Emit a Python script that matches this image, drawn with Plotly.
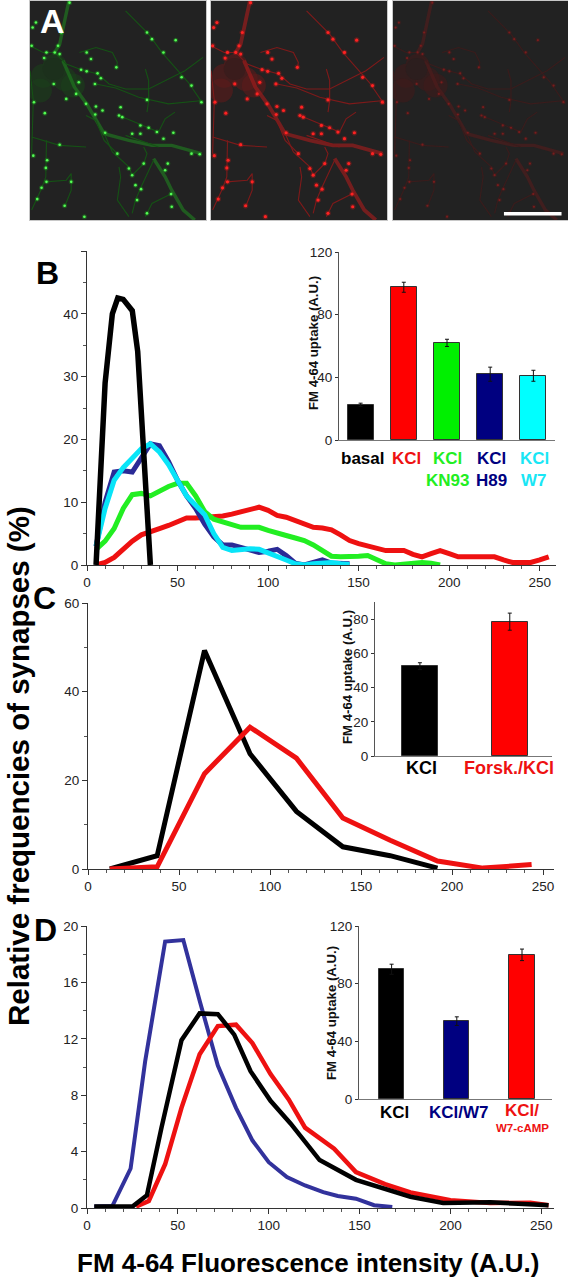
import plotly.graph_objects as go

W, H = 568, 1280
FONT = "Liberation Sans"
INK = "#222222"
RED, GREEN, NAVY, CYAN, BLUE = "#ee1111", "#22ee22", "#2a2a96", "#08e4f8", "#32329c"

# ---- Panel B distributions
b_x = [5 * i for i in range(1, 52)]
b_black_x = [5, 10, 14, 17, 20, 25, 28, 30, 35]
b_black = [0, 29, 40, 42.5, 42.3, 40.5, 34, 24, 0]
b_navy = [3, 10, 14.8, 15, 14.8, 17, 19.3, 19, 16.5, 13.5, 11, 9, 6.5, 4.5, 3.2, 3.2, 2.8, 2.5, 2, 2.2, 2.5, 1.5, 0.3, 0, 0.5, 0.8, 0.3, 0.3, 0.2]
b_cyan = [3, 9, 13.5, 15.5, 17, 18.5, 19.3, 18, 16, 13.5, 11, 9.5, 8, 5, 2.8, 2.3, 2.5, 2.6, 2.5, 2, 1.3, 0.8, 0.2, 0, 0.2, 0.4, 0.4, 0.2, 0.1]
b_green = [2.5, 3.8, 5.8, 9, 11.2, 11.4, 11, 11.8, 12.5, 13, 13, 11, 8.5, 7.3, 6.8, 6.3, 6, 6, 6, 5.5, 5, 4.7, 4.3, 3.9, 3.2, 2.2, 1.4, 1.3, 1.3, 1.4, 1.5, 0.9, 0.2, 0, 0.1, 0.3, 0.4, 0.3, 0]
b_red = [0, 0.4, 1.2, 2.5, 3.8, 4.8, 5.4, 5.8, 6.3, 6.9, 7.5, 7.5, 7.6, 7.6, 7.8, 8.1, 8.5, 8.9, 9.2, 8.7, 7.9, 7.6, 7.0, 6.5, 6, 5.9, 5.6, 4.8, 3.9, 3.4, 3, 2.6, 2.3, 2.3, 2.3, 1.7, 1.3, 1.8, 2.3, 1.8, 1.3, 1.3, 1.3, 1.3, 1.3, 0.8, 0.4, 0.4, 0.4, 0.8, 1.3]

# ---- Panel B inset
bi_vals = [22.5, 97.5, 62, 42, 41]
bi_errs = [1, 3.2, 2.3, 4.5, 3.5]
bi_colors = ["#000000", "#ff0000", "#00f000", "#000080", "#00ffff"]
bi_labels = [("basal", "", "#000000", 362), ("KCl", "", "#ee1111", 406), ("KCl", "KN93", "#22ee22", 448), ("KCl", "H89", "#000080", 491), ("KCl", "W7", "#19e6f5", 534)]

# ---- Panel C distributions
c_black_x = [12, 38, 64, 89, 114.5, 140, 166, 192]
c_black = [0, 3, 49.3, 26, 13, 5, 3, 0.2]
c_red_x = [12, 38, 64, 89, 114.5, 140, 166, 192, 217, 243.7]
c_red = [0, 0.5, 21.5, 32, 25, 11.5, 6.5, 1.8, 0.2, 1]
ci_vals = [52.5, 78.5]
ci_errs = [2, 5]
ci_colors = ["#000000", "#ff0000"]

# ---- Panel D distributions
d_blue_x = [4, 14, 24, 32, 43, 53, 62, 72, 82, 91, 100, 110, 120, 130, 138, 148, 158, 168]
d_blue = [0.1, 0.15, 2.8, 10.4, 18.9, 19, 14.7, 10.1, 7.1, 4.8, 3.25, 2.2, 1.6, 1.13, 0.85, 0.66, 0.2, 0.07]
d_black_x = [4, 25, 33, 41, 52, 62, 72, 81, 90, 101, 112, 128, 148, 178, 196, 222, 254]
d_black = [0.1, 0.1, 0.9, 5.7, 11.9, 13.8, 13.75, 12.3, 9.7, 7.6, 6, 3.4, 2, 0.8, 0.35, 0.4, 0.2]
d_red_x = [27, 34, 43, 52, 62, 72, 82, 91, 101, 111, 120, 136, 148, 164, 178, 200, 222, 244, 254]
d_red = [0.1, 0.5, 3.1, 7.1, 10.9, 12.9, 13, 11.7, 9.5, 7.7, 5.7, 4.2, 2.55, 1.7, 1.1, 0.55, 0.35, 0.38, 0.2]
di_vals = [90, 54, 100]
di_errs = [3.5, 3, 4]
di_colors = ["#000000", "#000080", "#ff0000"]

# ---- Panel A micrograph tracing (neurites and puncta, panel units)
neurites_thick = [
    [(118, 0), (105, 60), (90, 130), (75, 155)],
    [(100, 180), (135, 260), (175, 315), (225, 400), (300, 420), (370, 435), (430, 435), (520, 460)],
    [(375, 475), (410, 530), (430, 570), (465, 630), (500, 660)],
]
neurites_thin = [
    [(0, 135), (40, 155), (75, 155), (110, 190), (150, 205), (205, 220), (240, 250), (290, 265), (360, 265), (420, 235), (470, 210), (525, 170)],
    [(150, 155), (200, 140), (250, 155), (265, 185), (262, 205)],
    [(290, 30), (360, 100), (400, 155), (440, 200), (480, 245), (525, 310)],
    [(350, 205), (360, 240), (360, 300), (355, 335)],
    [(225, 400), (250, 455), (300, 500), (310, 525), (345, 490), (355, 460), (345, 440)],
    [(375, 480), (350, 530), (335, 565), (320, 600), (310, 640)],
    [(270, 500), (275, 530), (265, 600), (300, 650)],
    [(430, 580), (370, 610), (350, 650)],
    [(50, 420), (50, 480), (48, 530), (35, 565), (20, 600), (5, 630)],
    [(48, 545), (110, 540), (125, 520), (125, 570), (105, 620)],
    [(5, 410), (90, 435), (170, 440)],
    [(0, 210), (10, 300), (5, 460)],
    [(170, 345), (200, 360), (225, 420), (265, 460)],
    [(270, 345), (340, 375), (390, 395), (410, 355), (440, 335)],
    [(290, 405), (390, 440)],
    [(200, 250), (260, 262), (330, 290), (420, 310), (525, 300)],
]
puncta = [(120, 5), (8, 80), (18, 65), (95, 95), (85, 135), (75, 155), (50, 155), (43, 172), (90, 160), (172, 155), (185, 175),
          (155, 207), (172, 212), (205, 218), (215, 233), (197, 250), (72, 250), (148, 245), (140, 280), (170, 310), (200, 318),
          (220, 330), (275, 320), (262, 200), (370, 115), (405, 155), (355, 95), (460, 230), (490, 255), (442, 118), (520, 305),
          (355, 298), (110, 295), (12, 305), (5, 135), (45, 338), (52, 480), (48, 503), (50, 545), (35, 563), (22, 597), (105, 617),
          (125, 545), (165, 650), (228, 397), (198, 342), (270, 345), (280, 350), (335, 375), (360, 382), (385, 395), (335, 400),
          (310, 400), (405, 415), (435, 397), (490, 460), (515, 462), (418, 490), (410, 510), (300, 505), (310, 525), (345, 490),
          (320, 555), (337, 567), (428, 582), (325, 600), (355, 640), (265, 460), (90, 433), (10, 466), (430, 620)]
soma_glow = [(40, 225), (75, 195), (105, 235), (30, 270), (130, 255)]
soma_core = [(72, 205)]
panel_a_boxes = [(30, 206), (211, 387), (393, 568)]
panel_a_styles = [
    dict(dot="#55ff55", halo="#1f9a1f", thick="#1f7a1f", thin="#155215", glow="#1b3f1b", core="#1c301c", size=2.6, tw=3.4),
    dict(dot="#ff2222", halo="#b01818", thick="#a01c1c", thin="#7e1a1a", glow="#5e1a1a", core="#3a1c1c", size=3.2, tw=3.8),
    dict(dot="#7a1c1c", halo="#501c1c", thick="#501c1c", thin="#3a1c1c", glow="#401b1b", core="#2c1e1e", size=2.2, tw=3.4),
]

def segs(paths):
    xs, ys = [], []
    for p in paths:
        xs += [q[0] for q in p] + [None]
        ys += [q[1] for q in p] + [None]
    return xs, ys

fig = go.Figure()
layout = dict(width=W, height=H, margin=dict(l=0, r=0, t=0, b=0, autoexpand=False), paper_bgcolor="white",
              plot_bgcolor="rgba(0,0,0,0)", showlegend=False, font=dict(family=FONT, color=INK, size=13), bargap=0)
annos, n = [], [0]

def axes(l, r, t, b, xa, ya):
    n[0] += 1
    k = "" if n[0] == 1 else str(n[0])
    layout["xaxis" + k] = dict(domain=[l / W, r / W], anchor="y" + k, **xa)
    layout["yaxis" + k] = dict(domain=[1 - b / H, 1 - t / H], anchor="x" + k, **ya)
    return "x" + k, "y" + k

def text(x, y, s, size, color="#000000", bold=True, angle=0, anchor="center"):
    annos.append(dict(x=x / W, y=1 - y / H, xref="paper", yref="paper", text=f"<b>{s}</b>" if bold else s, showarrow=False,
                      font=dict(family=FONT, size=size, color=color), textangle=angle, xanchor=anchor, yanchor="middle"))

def main_axis(rng, vals, minor, blank_top=False):
    labels = [str(v) for v in vals]
    if blank_top:
        labels[-1] = ""
    return dict(range=rng, tickmode="array", tickvals=vals, ticktext=labels,
                ticks="outside", ticklen=5, tickwidth=1, tickcolor="#333333", showline=True, linecolor="#333333", linewidth=1.2,
                showgrid=False, zeroline=False, tickfont=dict(family=FONT, size=13.5, color=INK),
                minor=dict(tickmode="array", tickvals=minor, ticks="outside", ticklen=3, tickcolor="#555555", showgrid=False))

def line(ax, x, y, color, width, opacity=1.0):
    fig.add_trace(go.Scatter(x=x, y=y, mode="lines", xaxis=ax[0], yaxis=ax[1], opacity=opacity, line=dict(color=color, width=width), hoverinfo="skip"))

def dots(ax, pts, color, size, opacity=1.0):
    fig.add_trace(go.Scatter(x=[p[0] for p in pts], y=[p[1] for p in pts], mode="markers", xaxis=ax[0], yaxis=ax[1],
                             marker=dict(color=color, size=size, opacity=opacity, line=dict(width=0)), hoverinfo="skip"))

def bars(ax, vals, errs, colors, width):
    fig.add_trace(go.Bar(x=list(range(len(vals))), y=vals, width=width, xaxis=ax[0], yaxis=ax[1],
                         marker=dict(color=colors, line=dict(color="#333333", width=1)),
                         error_y=dict(type="data", array=errs, color="#111111", thickness=1, width=2), hoverinfo="skip"))

def inset_x(rng):
    return dict(range=rng, showticklabels=False, ticks="", showline=True, linecolor="#777777", linewidth=1, showgrid=False, zeroline=False)

def inset_y(rng, vals, size=13.5):
    return dict(range=rng, tickmode="array", tickvals=vals, ticks="outside", ticklen=3, tickcolor="#333333", showline=True,
                linecolor="#555555", linewidth=1, showgrid=False, zeroline=False, tickfont=dict(family=FONT, size=size, color=INK))

# ---- Panel A
blank = dict(showticklabels=False, ticks="", showgrid=False, zeroline=False, showline=True, mirror=True, linecolor="#c8c8c8", linewidth=1)
layout["shapes"] = []
for (l, r), st in zip(panel_a_boxes, panel_a_styles):
    ax = axes(l, r, 1, 220, dict(range=[0, 534], **blank), dict(range=[660, 0], **blank))
    layout["shapes"].append(dict(type="rect", xref="paper", yref="paper", x0=l / W, x1=r / W, y0=1 - 220 / H, y1=1 - 1 / H,
                                 fillcolor="#222222", line=dict(width=0), layer="below"))
    dots(ax, soma_glow, st["glow"], 24, 0.6)
    dots(ax, soma_core, st["core"], 22)
    xs, ys = segs(neurites_thick)
    line(ax, xs, ys, st["thick"], st["tw"], 0.65)
    xs, ys = segs(neurites_thin)
    line(ax, xs, ys, st["thin"], 1.1)
    dots(ax, puncta, st["halo"], st["size"] + 2.4, 0.4)
    dots(ax, puncta, st["dot"], st["size"])
layout["shapes"].append(dict(type="rect", xref="x3 domain", yref="y3 domain", x0=0.634, x1=0.963, y0=0.02, y1=0.037, fillcolor="white", line=dict(width=0)))
text(52, 21, "A", 34, "white")

# ---- Panel B
ax = axes(87, 556, 251, 565, main_axis([0, 259], [0, 50, 100, 150, 200, 250], list(range(10, 260, 10))),
          main_axis([0, 50], [0, 10, 20, 30, 40, 50], [5, 15, 25, 35, 45], blank_top=True))
line(ax, b_x[:len(b_red)], b_red, RED, 5)
line(ax, b_x[:len(b_green)], b_green, GREEN, 5)
line(ax, b_x[:len(b_navy)], b_navy, NAVY, 5)
line(ax, b_x[:len(b_cyan)], b_cyan, CYAN, 5)
line(ax, b_black_x, b_black, "#000000", 5.5)
ax = axes(339, 555, 252, 440, inset_x([-0.5, 4.5]), inset_y([0, 120], [0, 40, 80, 120]))
bars(ax, bi_vals, bi_errs, bi_colors, 0.6)
for a, b, c, x in bi_labels:
    text(x, 458, a, 17, c)
    if b:
        text(x, 480, b, 17, c)
text(313, 343, "FM 4-64 uptake (A.U.)", 13.2, "#111111", angle=-90)
text(47, 273, "B", 32)

# ---- Panel C
ax = axes(88, 554, 603, 869, main_axis([0, 256], [0, 50, 100, 150, 200, 250], list(range(10, 260, 10))),
          main_axis([0, 60], [0, 20, 40, 60], [10, 30, 50]))
line(ax, c_black_x, c_black, "#000000", 5)
line(ax, c_red_x, c_red, RED, 5)
ax = axes(375, 552, 602, 756, inset_x([-0.5, 1.47]), inset_y([0, 90], [0, 20, 40, 60, 80]))
bars(ax, ci_vals, ci_errs, ci_colors, 0.4)
text(421, 768, "KCl", 18)
text(509, 768, "Forsk./KCl", 18, RED)
text(347, 677, "FM 4-64 uptake (A.U.)", 13.2, "#111111", angle=-90)
text(44, 598, "C", 32)

# ---- Panel D
ax = axes(87, 554, 926, 1208, main_axis([0, 257], [0, 50, 100, 150, 200, 250], list(range(10, 260, 10))),
          main_axis([0, 20], [0, 4, 8, 12, 16, 20], [2, 6, 10, 14, 18]))
line(ax, d_blue_x, d_blue, BLUE, 4)
line(ax, d_red_x, d_red, RED, 4.5)
line(ax, d_black_x, d_black, "#000000", 4.5)
ax = axes(359, 552, 926, 1099, inset_x([-0.5, 2.46]), inset_y([0, 120], [0, 40, 80, 120]))
bars(ax, di_vals, di_errs, di_colors, 0.385)
text(394, 1112, "KCl", 17)
text(459, 1112, "KCl/W7", 17, "#000080")
text(522, 1110, "KCl/", 17, RED)
text(522, 1128, "W7-cAMP", 11.5, RED)
text(331, 1013, "FM 4-64 uptake (A.U.)", 13.2, "#111111", angle=-90)
text(45, 930, "D", 32)

# ---- Shared titles
text(18, 766, "Relative frequencies of synapses (%)", 29.5, angle=-90)
text(308, 1263, "FM 4-64 Fluorescence intensity (A.U.)", 26)

layout["annotations"] = annos
fig.update_layout(**layout)
fig.write_html("out.html", config=dict(displayModeBar=False), post_script="document.body.style.margin='0';")
